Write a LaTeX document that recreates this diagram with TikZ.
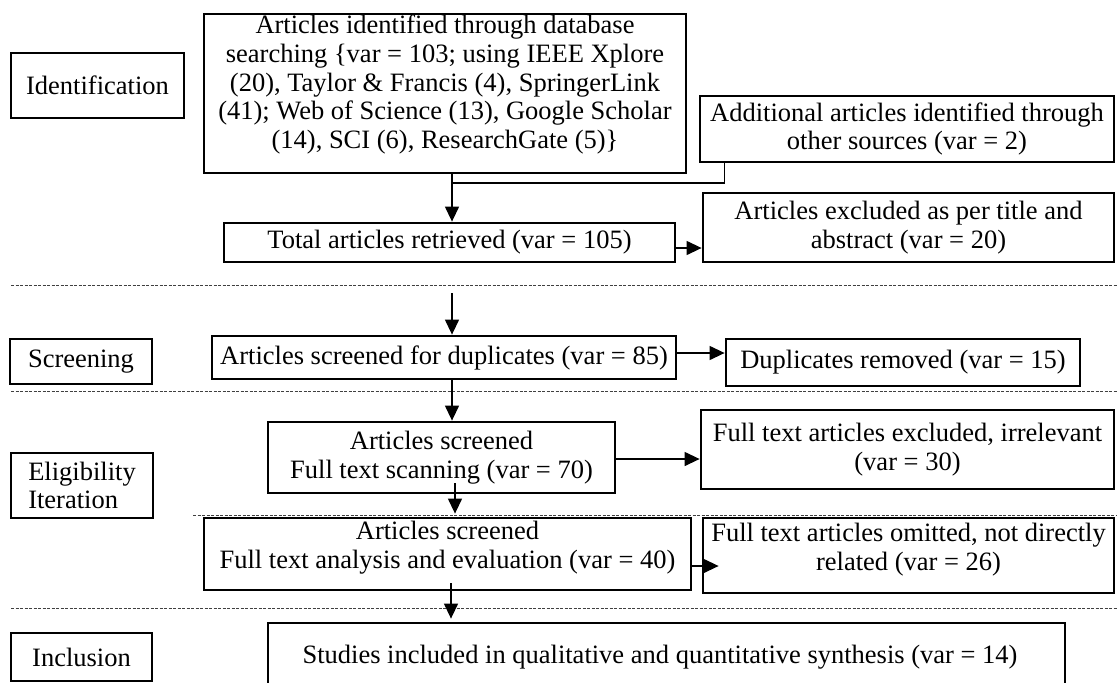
\documentclass[tikz,border=0pt]{standalone}
\usepackage{fontspec}
\setmainfont{Liberation Serif}
\usetikzlibrary{arrows.meta,calc}
\begin{document}
\begin{tikzpicture}[x=1pt,y=-1pt,
  box/.style={draw, line width=2.8pt, inner sep=0pt, align=center, font=\fontsize{26.5}{28.7}\selectfont},
  txt/.style={inner sep=0pt, align=center, font=\fontsize{26.5}{28.7}\selectfont},
  conn/.style={line width=1.3pt},
  arr/.style={line width=1.3pt, -{Triangle[length=15pt,width=14pt]}},
  sep/.style={line width=1pt, draw=black!75, dash pattern=on 3pt off 1.5pt}]
\useasboundingbox (0,0) rectangle (1117,683);
\clip (0,0) rectangle (1117,683);
\fill[white] (0,0) rectangle (1117,683);

% separators
\draw[sep] (11,285) -- (1117,285);
\draw[sep] (11,391) -- (1117,391);
\draw[sep] (193,515) -- (1117,515);
\draw[sep] (11,608) -- (1117,608);

% stage labels
\node[box, minimum width=173pt, minimum height=65pt] (idl) at (97.5,85.5) {Identification};
\node[box, minimum width=142pt, minimum height=45pt] (scl) at (81,361.5) {Screening};
\node[box, minimum width=142pt, minimum height=65pt, align=left] (ell) at (82,485.5) {Eligibility\\Iteration};
\node[box, minimum width=141pt, minimum height=48pt] (inl) at (81.5,657) {Inclusion};

% flow boxes
\node[box, minimum width=482pt, minimum height=159pt] (db) at (445,93.5) {};
\node[txt] (dbt) at ([yshift=9pt]db.center) {Articles identified through database\\searching \{var = 103; using IEEE Xplore\\(20), Taylor \& Francis (4), SpringerLink\\(41); Web of Science (13), Google Scholar\\(14), SCI (6), ResearchGate (5)\}};
\node[box, minimum width=414pt, minimum height=66pt] (add) at (907,129) {Additional articles identified through\\other sources (var = 2)};
\node[box, minimum width=451pt, minimum height=39pt] (tot) at (449.5,242.5) {Total articles retrieved (var = 105)};
\node[box, minimum width=411pt, minimum height=69pt] (exc) at (908.5,227.5) {Articles excluded as per title and\\abstract (var = 20)};
\node[box, minimum width=464pt, minimum height=43pt] (scr) at (444,357.5) {Articles screened for duplicates (var = 85)};
\node[box, minimum width=354pt, minimum height=47pt] (dup) at (903,362.5) {Duplicates removed (var = 15)};
\node[box, minimum width=347pt, minimum height=71pt] (scan) at (441.5,457.5) {Articles screened\\Full text scanning (var = 70)};
\node[box, minimum width=413pt, minimum height=79pt] (fte) at (907.5,449.5) {Full text articles excluded, irrelevant\\(var = 30)};
\node[box, minimum width=487pt, minimum height=72pt] (ana) at (447.5,554) {};
\node[txt] (anat) at ([yshift=6pt]ana.center) {Articles screened\\Full text analysis and evaluation (var = 40)};
\node[box, minimum width=411pt, minimum height=75pt] (omi) at (908.5,555.5) {};
\node[txt] (omit) at ([yshift=6pt]omi.center) {Full text articles omitted, not directly\\related (var = 26)};
\node[box, minimum width=797pt, minimum height=69pt] (stu) at (666.5,657.5) {};
\node[txt] (stut) at (660,657) {Studies included in qualitative and quantitative synthesis (var = 14)};

% connectors
\coordinate (j) at (452,183);
\draw[conn] ($(add.south west)+(26,0)$) |- (j);
\draw[arr] (db.south -| j) -- (tot.north -| j);
\draw[arr] ([yshift=-5.5pt]tot.east) -- ([yshift=-5.5pt]tot.east -| exc.west);
\coordinate (s1) at (452,293);
\draw[arr] (s1) -- (scr.north -| s1);
\draw[arr] ([yshift=4.5pt]scr.east) -- ([yshift=4.5pt]scr.east -| dup.west);
\draw[arr] (scr.south -| s1) -- (scan.north -| s1);
\draw[arr] ([yshift=-1.5pt]scan.east) -- ([yshift=-1.5pt]scan.east -| fte.west);
\coordinate (s2) at (455,483);
\draw[arr] (s2) -- ([yshift=3pt]ana.north -| s2);
\draw[arr] ([yshift=-12pt]ana.east) -- ([xshift=17pt,yshift=-12pt]ana.east -| omi.west);
\coordinate (s3) at (451,583);
\draw[arr] (s3) -- ([yshift=3pt]stu.north -| s3);
\end{tikzpicture}
\end{document}
